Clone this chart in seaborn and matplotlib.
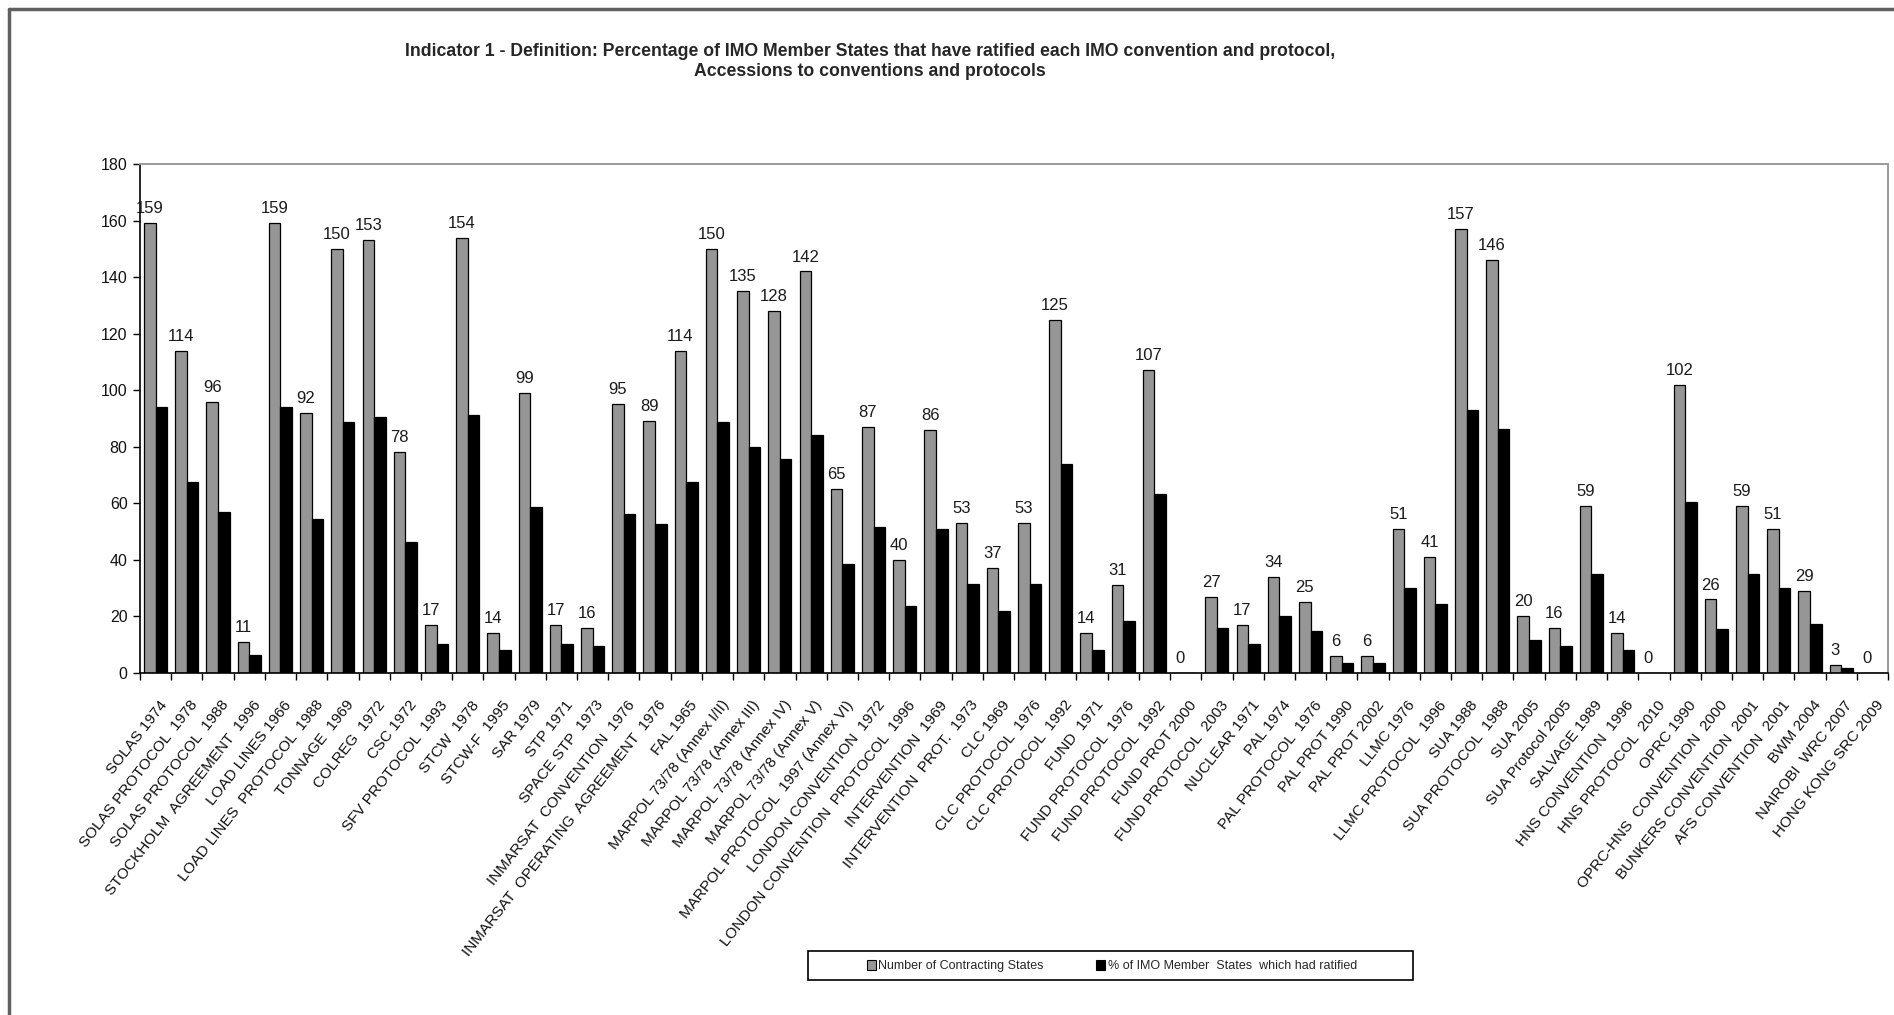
import matplotlib
matplotlib.use("Agg")
import matplotlib.pyplot as plt
import matplotlib.patches as mpatches
import matplotlib.lines as mlines
import matplotlib.transforms as mtransforms
from matplotlib.ticker import FixedLocator, MultipleLocator
import seaborn as sns
import pandas as pd

categories = [
    "SOLAS 1974", "SOLAS PROTOCOL  1978", "SOLAS PROTOCOL  1988", "STOCKHOLM  AGREEMENT  1996",
    "LOAD LINES 1966", "LOAD LINES  PROTOCOL  1988", "TONNAGE  1969", "COLREG  1972", "CSC 1972",
    "SFV PROTOCOL  1993", "STCW  1978", "STCW-F  1995", "SAR 1979", "STP 1971", "SPACE STP  1973",
    "INMARSAT  CONVENTION  1976", "INMARSAT  OPERATING  AGREEMENT  1976", "FAL 1965",
    "MARPOL 73/78 (Annex I/II)", "MARPOL 73/78 (Annex III)", "MARPOL 73/78 (Annex IV)",
    "MARPOL 73/78 (Annex V)", "MARPOL PROTOCOL  1997 (Annex VI)", "LONDON CONVENTION  1972",
    "LONDON CONVENTION  PROTOCOL  1996", "INTERVENTION  1969", "INTERVENTION  PROT.  1973",
    "CLC 1969", "CLC PROTOCOL  1976", "CLC PROTOCOL  1992", "FUND  1971", "FUND PROTOCOL  1976",
    "FUND PROTOCOL  1992", "FUND PROT 2000", "FUND PROTOCOL  2003", "NUCLEAR 1971", "PAL 1974",
    "PAL PROTOCOL  1976", "PAL PROT 1990", "PAL PROT 2002", "LLMC 1976", "LLMC PROTOCOL  1996",
    "SUA 1988", "SUA PROTOCOL  1988", "SUA 2005", "SUA Protocol 2005", "SALVAGE 1989",
    "HNS CONVENTION  1996", "HNS PROTOCOL  2010", "OPRC 1990", "OPRC-HNS  CONVENTION  2000",
    "BUNKERS CONVENTION  2001", "AFS CONVENTION  2001", "BWM 2004", "NAIROBI  WRC 2007",
    "HONG KONG SRC 2009",
]

contracting_states = [
    159, 114, 96, 11, 159, 92, 150, 153, 78, 17, 154, 14, 99, 17, 16, 95, 89, 114,
    150, 135, 128, 142, 65, 87, 40, 86, 53, 37, 53, 125, 14, 31, 107, 0, 27, 17, 34,
    25, 6, 6, 51, 41, 157, 146, 20, 16, 59, 14, 0, 102, 26, 59, 51, 29, 3, 0,
]

pct_ratified = [
    94.1, 67.5, 56.8, 6.5, 94.1, 54.4, 88.8, 90.5, 46.2, 10.1, 91.1, 8.3, 58.6, 10.1,
    9.5, 56.2, 52.7, 67.5, 88.8, 79.9, 75.7, 84.0, 38.5, 51.5, 23.7, 50.9, 31.4, 21.9,
    31.4, 74.0, 8.3, 18.3, 63.3, 0.0, 16.0, 10.1, 20.1, 14.8, 3.6, 3.6, 30.2, 24.3,
    92.9, 86.4, 11.8, 9.5, 34.9, 8.3, 0.0, 60.4, 15.4, 34.9, 30.2, 17.2, 1.8, 0.0,
]

series_names = ["Number of Contracting States", "% of IMO Member  States  which had ratified"]
title_lines = [
    "Indicator 1 - Definition: Percentage of IMO Member States that have ratified each IMO convention and protocol,",
    "Accessions to conventions and protocols",
]

df = pd.DataFrame({
    "category": categories * 2,
    "value": contracting_states + pct_ratified,
    "series": [series_names[0]] * len(categories) + [series_names[1]] * len(categories),
})

sns.set_theme(style="white")
narrow = ["Liberation Sans Narrow", "Liberation Sans", "DejaVu Sans"]
plt.rcParams["font.family"] = ["Liberation Sans", "DejaVu Sans"]

W, H = 1894, 1015
fig = plt.figure(figsize=(W / 100, H / 100), dpi=100)
ax = fig.add_axes([140 / W, 1 - 673 / H, (1888 - 140) / W, (673 - 164) / H])

sns.barplot(data=df, x="category", y="value", hue="series", order=categories,
            hue_order=series_names, palette=["#969696", "#000000"], width=0.74,
            gap=0, edgecolor="black", linewidth=0.9, saturation=1, ax=ax,
            legend=False)

# data labels above grey bars
grey_container = ax.containers[0]
ax.bar_label(grey_container, labels=[str(v) for v in contracting_states], padding=5,
             fontsize=12, family=narrow, color="#1a1a1a")

ax.set_xlim(-0.5, len(categories) - 0.5)
ax.set_ylim(0, 180)
ax.yaxis.set_major_locator(MultipleLocator(20))
ax.set_xlabel("")
ax.set_ylabel("")

for lbl in ax.get_yticklabels():
    lbl.set_family(narrow)
    lbl.set_fontsize(11.5)
ax.tick_params(axis="y", which="major", direction="out", length=5, width=1, color="black",
               left=True, pad=4, labelcolor="#111111")

ax.set_xticks(range(len(categories)))
ax.set_xticklabels(categories, rotation=52, ha="right", rotation_mode="anchor",
                   fontsize=11.0, color="#111111")
ax.tick_params(axis="x", which="major", length=0, pad=18)
shift = mtransforms.ScaledTranslation(3 / 100, 0, fig.dpi_scale_trans)
for lbl in ax.get_xticklabels():
    lbl.set_transform(lbl.get_transform() + shift)
ax.xaxis.set_minor_locator(FixedLocator([i - 0.5 for i in range(len(categories) + 1)]))
ax.tick_params(axis="x", which="minor", direction="out", length=5, width=1, color="black",
               bottom=True)

for side in ["left", "bottom"]:
    ax.spines[side].set_color("black")
    ax.spines[side].set_linewidth(1.2)
for side in ["top", "right"]:
    ax.spines[side].set_color("#9a9a9a")
    ax.spines[side].set_linewidth(1.4)
ax.grid(False)

# title
fig.text(870 / W, 1 - 51 / H, title_lines[0], ha="center", va="center",
         fontsize=12.7, fontweight="bold", family=narrow)
fig.text(870 / W, 1 - 72 / H, title_lines[1], ha="center", va="center",
         fontsize=12.7, fontweight="bold", family=narrow)

# legend (entries without frame) + Excel-like box
handles = [mpatches.Patch(facecolor="#969696", edgecolor="black", linewidth=0.8),
           mpatches.Patch(facecolor="#000000", edgecolor="black", linewidth=0.8)]
leg = fig.legend(handles, series_names, loc="center", ncol=2,
                 bbox_to_anchor=(1112 / W, 1 - 966 / H), frameon=False,
                 prop={"family": narrow, "size": 9}, handlelength=0.7, handleheight=0.9,
                 handletextpad=0.2, columnspacing=4.2, borderpad=0.3)
fig.patches.append(mpatches.Rectangle((808 / W, 1 - 980 / H), (1413 - 808) / W, 29 / H,
                                      transform=fig.transFigure, fill=False,
                                      edgecolor="black", linewidth=1.2, zorder=5))

# outer chart-area border (top and left edges only visible)
fig.add_artist(mlines.Line2D([9 / W, 1.0], [1 - 9 / H, 1 - 9 / H], transform=fig.transFigure,
                             color="#606060", linewidth=2.5))
fig.add_artist(mlines.Line2D([9 / W, 9 / W], [1 - 9 / H, 0.0], transform=fig.transFigure,
                             color="#606060", linewidth=2.5))

fig.savefig("out.png", dpi=100, facecolor="white")
